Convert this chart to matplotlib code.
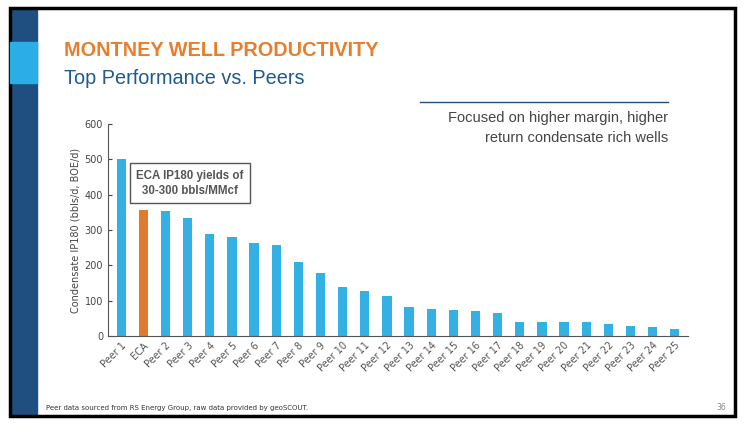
import matplotlib.pyplot as plt
import matplotlib.patches as patches

labels = ['Peer 1', 'ECA'] + ['Peer %d' % i for i in range(2, 26)]
values = [502, 357, 354, 333, 290, 280, 264, 257, 209, 177, 139, 126, 113,
          81, 77, 75, 72, 64, 41, 41, 40, 40, 35, 29, 26, 20]
blue = '#33b1e5'
orange = '#e07b2e'
colors = [orange if l == 'ECA' else blue for l in labels]

fig = plt.figure(figsize=(7.44, 4.28), dpi=100)
W, H = 744, 428

def px(x, y):
    return x / W, 1 - y / H

# slide frame and left stripe
fig.patches.append(patches.Rectangle(px(10, 416), 725 / W, 408 / H, transform=fig.transFigure,
                                     fill=False, edgecolor='black', linewidth=2.5))
fig.patches.append(patches.Rectangle(px(10, 416), 27 / W, 408 / H, transform=fig.transFigure,
                                     color='#1e4f80', zorder=0))
fig.patches.append(patches.Rectangle(px(10, 83), 27 / W, 41 / H, transform=fig.transFigure,
                                     color='#2aaee8', zorder=1))

fig.text(*px(64, 50), 'MONTNEY WELL PRODUCTIVITY', color='#e87d2e', fontsize=14.3,
         fontweight='bold', va='center', family='Liberation Sans')
fig.text(*px(64, 78), 'Top Performance vs. Peers', color='#1e5a8c', fontsize=14.3,
         va='center', family='Liberation Sans')

fig.lines.append(plt.Line2D([420 / W, 668 / W], [1 - 102 / H] * 2, transform=fig.transFigure,
                            color='#1e4f80', linewidth=1))
fig.text(*px(668, 118), 'Focused on higher margin, higher', ha='right', va='center',
         fontsize=10.5, color='#444444', family='Liberation Sans')
fig.text(*px(668, 138), 'return condensate rich wells', ha='right', va='center',
         fontsize=10.5, color='#444444', family='Liberation Sans')

fig.text(*px(46, 408), 'Peer data sourced from RS Energy Group, raw data provided by geoSCOUT.',
         fontsize=5, color='#333333', va='center')
fig.text(*px(726, 408), '36', fontsize=5.5, color='#888888', ha='right', va='center')

ax = fig.add_axes([108 / W, 1 - 336 / H, 580 / W, 212 / H])
x = range(len(labels))
ax.bar(x, values, width=0.42, color=colors)
ax.set_xlim(-0.6, len(labels) - 0.4)
ax.set_ylim(0, 600)
ax.set_yticks(range(0, 601, 100))
ax.tick_params(axis='y', labelsize=7, colors='#444444', length=3, direction='in')
ax.set_xticks(list(x))
ax.set_xticklabels(labels, rotation=45, ha='right', rotation_mode='anchor',
                   fontsize=7, color='#555555')
ax.tick_params(axis='x', length=0, pad=3)
for s in ['top', 'right']:
    ax.spines[s].set_visible(False)
ax.spines['left'].set_color('#555555')
ax.spines['bottom'].set_color('#555555')
ax.set_ylabel('Condensate IP180 (bbls/d, BOE/d)', fontsize=7, color='#444444', labelpad=3)

ax.text(3.1, 432, 'ECA IP180 yields of\n30-300 bbls/MMcf', ha='center', va='center',
        fontsize=8.3, fontweight='bold', color='#555555', linespacing=1.35,
        family='Liberation Sans',
        bbox=dict(boxstyle='square,pad=0.55', facecolor='white', edgecolor='#555555', linewidth=1))

fig.savefig('out.png', dpi=100)
